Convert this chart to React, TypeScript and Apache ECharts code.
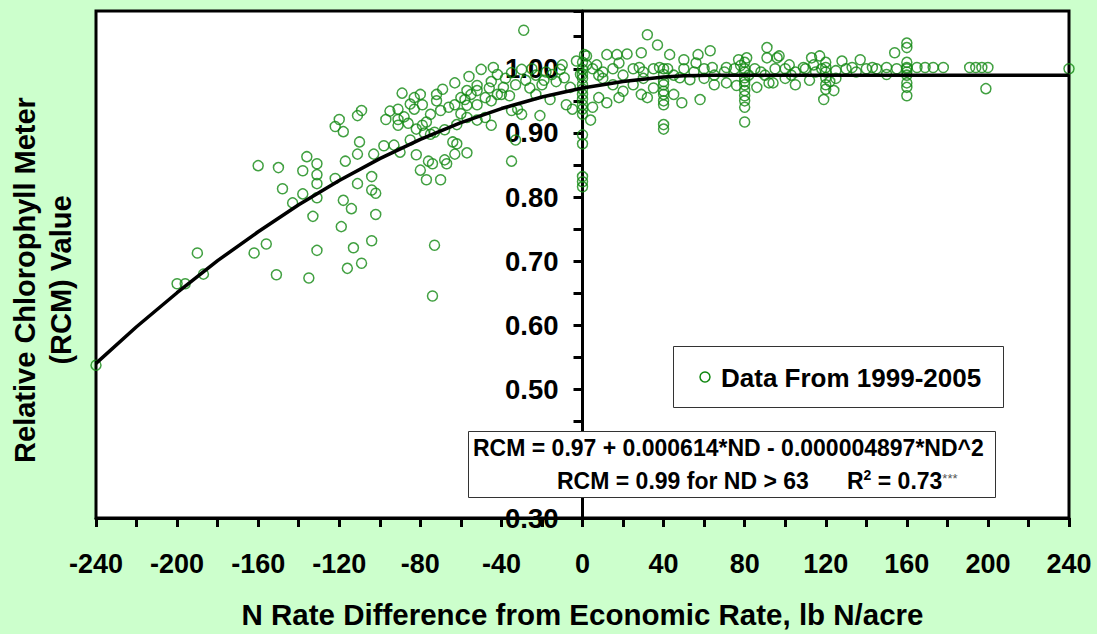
import React, { useEffect, useRef } from "react";
import * as echarts from "echarts";

const FONT = "'Liberation Sans', Arial, sans-serif";

// Observations below ND = -100 (lb N/acre, relative chlorophyll meter value)
const deficitPoints: [number, number][] = [
  [-240, 0.538], [-200, 0.665], [-196, 0.665], [-190, 0.713], [-187, 0.68], [-162, 0.713],
  [-160, 0.849], [-156, 0.727], [-151, 0.679], [-150, 0.846], [-148, 0.813], [-143, 0.791],
  [-138, 0.841], [-138, 0.805], [-136, 0.863], [-135, 0.674], [-133, 0.77], [-131, 0.852],
  [-131, 0.835], [-131, 0.821], [-131, 0.799], [-131, 0.717], [-122, 0.829], [-119, 0.754],
  [-118, 0.795], [-117, 0.856], [-116, 0.689], [-120, 0.921], [-122, 0.91], [-118, 0.902],
  [-114, 0.782], [-113, 0.721], [-111, 0.867], [-111, 0.821], [-111, 0.927], [-110, 0.886],
  [-109, 0.935], [-109, 0.697], [-104, 0.732], [-104, 0.832], [-104, 0.811], [-102, 0.806],
  [-102, 0.773], [-103, 0.867],
];

// Observations between ND = -100 and -40
const midPoints: [number, number][] = [
  [-98, 0.88], [-93, 0.881], [-90, 0.87], [-97, 0.921], [-91, 0.921], [-91, 0.912], [-95, 0.934],
  [-91, 0.937], [-89, 0.962], [-83, 0.955], [-80, 0.96], [-83, 0.937], [-79, 0.944], [-75, 0.929],
  [-85, 0.889], [-82, 0.906], [-79, 0.912], [-77, 0.917], [-73, 0.901], [-75, 0.898], [-82, 0.866],
  [-80, 0.842], [-76, 0.856], [-74, 0.852], [-77, 0.827], [-70, 0.827], [-73, 0.725], [-74, 0.646],
  [-72, 0.95], [-72, 0.96], [-69, 0.968], [-63, 0.978], [-63, 0.944], [-62, 0.913], [-64, 0.886],
  [-62, 0.883], [-57, 0.869], [-63, 0.867], [-68, 0.858], [-67, 0.852], [-56, 0.988], [-57, 0.966],
  [-52, 0.966], [-57, 0.943], [-52, 0.944], [-52, 0.92], [-52, 0.974], [-58, 0.952], [-57, 0.924],
  [-48, 0.924], [-45, 0.912], [-45, 0.95], [-50, 0.999], [-44, 1.002], [-66, 0.94], [-60, 0.955],
  [-55, 0.96], [-48, 0.955], [-46, 0.97], [-42, 0.96], [-85, 0.945], [-88, 0.925], [-70, 0.935],
  [-78, 0.9], [-68, 0.905], [-60, 0.93], [-86, 0.915],
];

// Observations between ND = -40 and 0
const nearZeroPoints: [number, number][] = [
  [-42, 0.991], [-35, 0.994], [-30, 0.999], [-28, 0.982], [-23, 0.99], [-19, 0.982], [-15, 0.991],
  [-11, 0.999], [-9, 0.986], [-6, 0.971], [-3, 1.012], [-1, 0.991], [-39, 0.971], [-36, 0.958],
  [-32, 0.937], [-35, 0.935], [-30, 0.929], [-21, 0.927], [-33, 0.889], [-35, 0.856], [-23, 0.96],
  [-16, 0.952], [-8, 0.944], [-5, 0.937], [-29, 1.06], [-10, 1.006], [-38, 0.985], [-33, 0.975],
  [-26, 0.97], [-20, 0.975], [-13, 0.98], [-25, 1.0], [-18, 0.995], [-40, 0.96], [-45, 0.98],
  [0, 0.999], [0, 0.991], [0, 0.975], [0, 0.968], [0, 0.96], [0, 0.952], [0, 0.944], [0, 0.937],
  [0, 0.929], [0, 0.897], [0, 0.883], [0, 0.832], [0, 0.824], [0, 0.816], [0, 1.01], [0, 0.985],
];

// Observations above the economic rate
const surplusPoints: [number, number][] = [
  [1, 1.022], [2, 1.006], [4, 0.92], [2, 1.02], [7, 1.006], [8, 0.955], [12, 0.947], [18, 0.955],
  [5, 0.94], [12, 1.022], [17, 1.022], [22, 1.023], [29, 1.025], [32, 1.053], [37, 1.037],
  [43, 1.022], [57, 1.022], [63, 1.028], [18, 1.009], [28, 1.002], [38, 1.002], [50, 1.014],
  [56, 1.009], [64, 1.002], [71, 1.002], [77, 1.014], [81, 1.017], [91, 1.033], [91, 1.017],
  [96, 1.017], [25, 0.975], [29, 0.96], [32, 0.955], [40, 0.944], [40, 0.913], [40, 0.906],
  [40, 0.96], [40, 0.975], [40, 0.991], [45, 0.96], [49, 0.947], [58, 0.952], [48, 0.986],
  [53, 0.983], [71, 0.978], [76, 0.974], [80, 0.966], [80, 0.958], [80, 0.986], [80, 0.917],
  [86, 0.971], [92, 0.978], [97, 1.02], [102, 1.006], [94, 0.978], [103, 0.99], [109, 1.002],
  [112, 0.982], [113, 1.017], [117, 1.02], [114, 1.006], [120, 1.002], [120, 0.986], [120, 0.968],
  [119, 0.952], [124, 0.966], [125, 0.997], [128, 1.012], [133, 1.002], [137, 1.014], [143, 1.002],
  [150, 1.002], [150, 0.991], [154, 1.025], [160, 1.04], [160, 1.033], [160, 1.002], [160, 0.99],
  [160, 0.978], [160, 0.971], [160, 0.958], [165, 1.002], [169, 1.002], [173, 1.002], [178, 1.002],
  [191, 1.002], [194, 1.002], [197, 1.002], [200, 1.002], [199, 0.969], [240, 1.0],
  [5, 1.0], [10, 0.995], [15, 1.0], [20, 0.99], [25, 1.0], [30, 0.995], [35, 1.0], [42, 1.0],
  [45, 0.99], [50, 1.0], [55, 0.995], [60, 1.0], [65, 0.99], [70, 0.995], [75, 1.0], [78, 1.005],
  [80, 1.0], [80, 0.995], [80, 1.01], [80, 0.98], [80, 0.975], [82, 0.99], [85, 1.0], [88, 0.995],
  [95, 1.0], [100, 1.0], [105, 0.995], [110, 1.0], [115, 0.995], [118, 1.0], [120, 1.01],
  [120, 0.995], [122, 0.98], [130, 1.0], [135, 0.995], [140, 1.0], [145, 1.0], [155, 1.0],
  [160, 1.0], [160, 0.995], [160, 1.01], [10, 0.985], [15, 0.975], [20, 0.965], [8, 0.99],
  [30, 0.985], [35, 0.97], [60, 0.985], [65, 0.975], [100, 0.985], [105, 0.975], [90, 0.99],
  [40, 0.98], [40, 0.965], [40, 0.95], [40, 1.0], [80, 0.94], [80, 0.95], [120, 0.975], [125, 0.985],
];

// Quadratic-plateau fit line: RCM = 0.97 + 0.000614*ND - 0.000004897*ND^2, 0.99 for ND > 63
const fitNd = [-240, -220, -200, -180, -160, -140, -120, -100, -80, -60, -40, -20, 0, 20, 40, 50, 63, 240];
const fitRcm = [0.541, 0.598, 0.651, 0.701, 0.746, 0.788, 0.826, 0.86, 0.89, 0.916, 0.938, 0.956, 0.97, 0.98, 0.987, 0.989, 0.99, 0.99];

const xLabelStep = 40;
// 0.40 sits behind the equation box in the reference, so it is not labelled
const yLabelTicks = [0.3, 0.5, 0.6, 0.7, 0.8, 0.9, 1.0];

const legendLabel = "Data From 1999-2005";
const equationLine1 = "RCM = 0.97 + 0.000614*ND - 0.000004897*ND^2";
const equationLine2 = "RCM = 0.99 for ND > 63";

const GREEN = "#118811";
const GRID_LEFT = 96;
const GRID_RIGHT = 28;
const CHART_W = 1097;

export default function App() {
  const ref = useRef<HTMLDivElement>(null);

  useEffect(() => {
    if (!ref.current) return;
    const chart = echarts.init(ref.current, undefined, { renderer: "svg" });
    const allPoints = [...deficitPoints, ...midPoints, ...nearZeroPoints, ...surplusPoints];
    const fitLine = fitNd.map((x, i) => [x, fitRcm[i]]);
    // y axis crosses at ND = 0: shift it from the grid's left edge to the middle
    const plotW = CHART_W - GRID_LEFT - GRID_RIGHT;
    const yAxisOffset = -plotW / 2;

    chart.setOption({
      animation: false,
      backgroundColor: "#ccffcc",
      grid: {
        left: GRID_LEFT,
        right: GRID_RIGHT,
        top: 11,
        bottom: 110,
        show: true,
        backgroundColor: "#ffffff",
        borderColor: "#000000",
        borderWidth: 3,
      },
      xAxis: {
        type: "value",
        min: -240,
        max: 240,
        interval: 20,
        axisLine: { onZero: false, lineStyle: { color: "#000", width: 3 } },
        axisTick: { show: true, length: 9, lineStyle: { color: "#000", width: 3 } },
        axisLabel: {
          formatter: (v: number) => (Math.round(v) % xLabelStep === 0 ? String(Math.round(v)) : ""),
          fontSize: 27,
          fontWeight: "bold",
          fontFamily: FONT,
          color: "#000",
          margin: 32,
        },
        splitLine: { show: false },
        name: "N Rate Difference from Economic Rate, lb N/acre",
        nameLocation: "middle",
        nameGap: 81,
        nameTextStyle: { fontSize: 29.5, fontWeight: "bold", fontFamily: FONT, color: "#000" },
      },
      yAxis: {
        type: "value",
        position: "left",
        offset: yAxisOffset,
        min: 0.3,
        max: 1.09,
        interval: 0.05,
        axisLine: { onZero: false, lineStyle: { color: "#000", width: 3 } },
        axisTick: { show: true, length: 9, lineStyle: { color: "#000", width: 3 } },
        axisLabel: {
          formatter: (v: number) => {
            const hit = yLabelTicks.find((t) => Math.abs(t - v) < 1e-6);
            return hit !== undefined ? hit.toFixed(2) : "";
          },
          fontSize: 27.5,
          fontWeight: "bold",
          fontFamily: FONT,
          color: "#000",
          margin: 24,
        },
        splitLine: { show: false },
      },
      series: [
        {
          name: legendLabel,
          type: "scatter",
          data: allPoints,
          symbol: "circle",
          symbolSize: 10,
          itemStyle: { color: "rgba(0,0,0,0)", borderColor: GREEN, borderWidth: 1.5 },
          z: 2,
        },
        {
          name: "fit",
          type: "line",
          data: fitLine,
          showSymbol: false,
          symbol: "none",
          lineStyle: { color: "#000", width: 3.5 },
          z: 3,
        },
      ],
      graphic: [
        {
          type: "text",
          x: 43,
          y: 280,
          rotation: Math.PI / 2,
          z: 100,
          style: {
            text: "Relative Chlorophyll Meter\n(RCM) Value",
            fontSize: 29,
            fontWeight: "bold",
            fontFamily: FONT,
            fill: "#000",
            align: "center",
            verticalAlign: "middle",
            lineHeight: 36,
          },
        },
        {
          type: "rect",
          z: 100,
          shape: { x: 673.5, y: 346.5, width: 330, height: 61 },
          style: { fill: "#fff", stroke: "#333", lineWidth: 1 },
        },
        {
          type: "circle",
          z: 101,
          shape: { cx: 705, cy: 377, r: 5 },
          style: { fill: "none", stroke: GREEN, lineWidth: 1.5 },
        },
        {
          type: "text",
          z: 101,
          x: 721,
          y: 378,
          style: {
            text: legendLabel,
            fontSize: 26,
            fontWeight: "bold",
            fontFamily: FONT,
            fill: "#000",
            align: "left",
            verticalAlign: "middle",
          },
        },
        {
          type: "rect",
          z: 100,
          shape: { x: 468.5, y: 431.5, width: 527, height: 66 },
          style: { fill: "#fff", stroke: "#333", lineWidth: 1 },
        },
        {
          type: "text",
          z: 101,
          x: 473,
          y: 448,
          style: {
            text: equationLine1,
            fontSize: 23,
            fontWeight: "bold",
            fontFamily: FONT,
            fill: "#000",
            align: "left",
            verticalAlign: "middle",
          },
        },
        {
          type: "text",
          z: 101,
          x: 557,
          y: 481,
          style: {
            text: equationLine2,
            fontSize: 23,
            fontWeight: "bold",
            fontFamily: FONT,
            fill: "#000",
            align: "left",
            verticalAlign: "middle",
          },
        },
        {
          type: "text",
          z: 101,
          x: 847,
          y: 481,
          style: {
            text: "R{sup|2} = 0.73{star|***}",
            fontSize: 23,
            fontWeight: "bold",
            fontFamily: FONT,
            fill: "#000",
            align: "left",
            verticalAlign: "middle",
            rich: {
              sup: { fontSize: 14, fontWeight: "bold", fontFamily: FONT, fill: "#000", padding: [0, 0, 12, 0] },
              star: { fontSize: 13, fontWeight: "normal", fontFamily: FONT, fill: "#555", padding: [0, 0, 6, 0] },
            },
          },
        },
      ],
    });

    return () => chart.dispose();
  }, []);

  return (
    <div
      ref={ref}
      style={{ position: "absolute", left: 0, top: 0, width: 1097, height: 634 }}
    />
  );
}
